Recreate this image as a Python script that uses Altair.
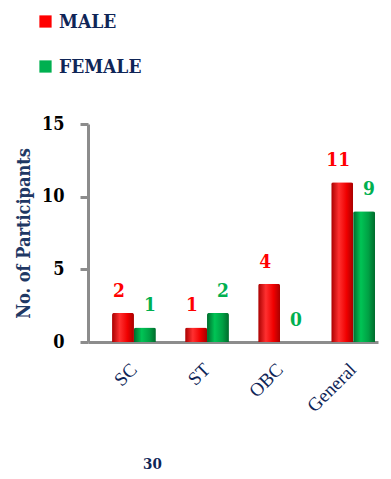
import altair as alt
import pandas as pd

categories = ["SC", "ST", "OBC", "General"]
male = [2, 1, 4, 11]
female = [1, 2, 0, 9]
series = ["MALE", "FEMALE"]
colors = ["#ff0000", "#00b050"]

rows = []
for c, m, f in zip(categories, male, female):
    rows.append({"cat": c, "sex": "MALE", "n": m})
    rows.append({"cat": c, "sex": "FEMALE", "n": f})
df = pd.DataFrame(rows)

FONT = "Liberation Serif"
FONT_B = "DejaVu Serif Condensed"
NAVY = "#0f2557"

x_enc = alt.X("cat:N", sort=categories,
              scale=alt.Scale(paddingInner=0.4, paddingOuter=0.185, align=0.89),
              axis=alt.Axis(title="30", labelAngle=-45, labelAlign="right", labelBaseline="middle",
                            labelPadding=24, labelFont=FONT, labelFontSize=19, labelColor=NAVY,
                            ticks=False, domainColor="#8c8c8c", domainWidth=3,
                            titleFont=FONT_B, titleFontSize=15, titleFontWeight="bold", titleColor=NAVY,
                            titleAnchor="start", titleX=64, titleY=121, titleBaseline="middle",
                            titleAlign="center"))
xo = alt.XOffset("sex:N", scale=alt.Scale(domain=series, paddingInner=0, paddingOuter=0))
y_enc = alt.Y("n:Q", scale=alt.Scale(domain=[0, 15]),
              axis=alt.Axis(title="No. of Participants", values=[0, 5, 10, 15], grid=False,
                            domainColor="#8c8c8c", domainWidth=3, tickColor="#8c8c8c", tickWidth=3,
                            tickSize=8, labelPadding=16, labelFont=FONT_B, labelFontSize=18,
                            labelFontWeight="bold", labelColor="#000000",
                            titleFont=FONT_B, titleFontSize=18, titleFontWeight="bold",
                            titleColor="#1f3864", titlePadding=8))

def grad(dark, light, mid):
    return alt.Gradient(gradient="linear", x1=0, x2=1, y1=0, y2=0,
                        stops=[alt.GradientStop(color=dark, offset=0),
                               alt.GradientStop(color=light, offset=0.35),
                               alt.GradientStop(color=mid, offset=0.7),
                               alt.GradientStop(color=dark, offset=1)])

base = alt.Chart(df)
male_bars = base.transform_filter(alt.datum.sex == "MALE").mark_bar(
    fill=grad("#a80000", "#ff3030", "#f00000"), cornerRadiusTopLeft=2, cornerRadiusTopRight=2
).encode(x=x_enc, xOffset=xo, y=y_enc)
female_bars = base.transform_filter(alt.datum.sex == "FEMALE").mark_bar(
    fill=grad("#006b2c", "#00c455", "#00a044"), cornerRadiusTopLeft=2, cornerRadiusTopRight=2
).encode(x=x_enc, xOffset=xo, y=y_enc)

color_enc = alt.Color("sex:N", scale=alt.Scale(domain=series, range=colors),
                      legend=alt.Legend(title=None, orient="none", legendX=-52, legendY=-112,
                                        padding=0, symbolType="square", symbolSize=150,
                                        symbolStrokeWidth=0, symbolOpacity=1, rowPadding=25,
                                        labelFont=FONT_B, labelFontSize=19, labelFontWeight="bold",
                                        labelColor=NAVY, labelOffset=4))

male_labels = base.transform_filter(alt.datum.sex == "MALE").mark_text(
    baseline="bottom", dy=-12, dx=-4, font=FONT_B, fontSize=19, fontWeight="bold"
).encode(x=x_enc, xOffset=xo, y=y_enc, text="n:Q", color=color_enc)
female_labels = base.transform_filter(alt.datum.sex == "FEMALE").mark_text(
    baseline="bottom", dy=-12, dx=5, font=FONT_B, fontSize=19, fontWeight="bold"
).encode(x=x_enc, xOffset=xo, y=y_enc, text="n:Q", color=color_enc)

chart = alt.layer(male_bars, female_bars, male_labels, female_labels).properties(
    width=290, height=218,
    autosize=alt.AutoSizeParams(type="none"),
    padding={"left": 80, "top": 116, "right": 3, "bottom": 129},
).configure_view(stroke=None)

chart.save("out.html", embed_options={"renderer": "svg", "actions": False})
